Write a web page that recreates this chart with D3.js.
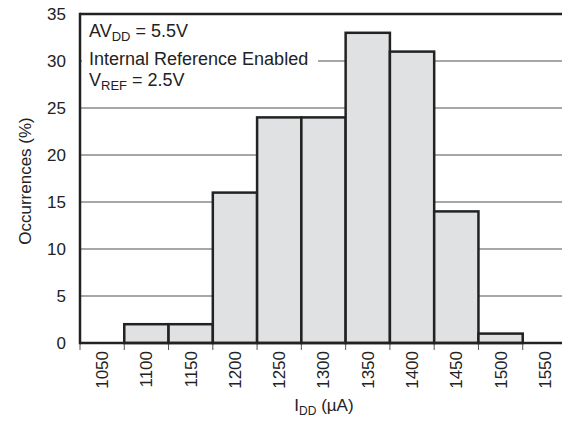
<!DOCTYPE html>
<html><head><meta charset="utf-8">
<script src="https://cdn.jsdelivr.net/npm/d3@7"></script>
<style>body{margin:0;background:#fff}svg{display:block;font-family:"Liberation Sans",Arial,Helvetica,sans-serif}</style>
</head><body><svg id="c" width="562" height="421"></svg>
<script>
const categories = ["1050","1100","1150","1200","1250","1300","1350","1400","1450","1500","1550"];
const values = [0, 2, 2, 16, 24, 24, 33, 31, 14, 1, 0];
const yTicks = [0, 5, 10, 15, 20, 25, 30, 35];

const svg = d3.select("#c");
const L = 80, R = 567, T = 14, B = 343;
const x = d3.scaleBand().domain(categories).range([L, R]).padding(0);
const y = d3.scaleLinear().domain([0, 35]).range([B, T]);

// gridlines
svg.append("g").selectAll("line").data(yTicks.filter(d => d > 0 && d < 35)).join("line")
  .attr("x1", L).attr("x2", R).attr("y1", d => y(d)).attr("y2", d => y(d))
  .attr("stroke", "#8a8a8a").attr("stroke-width", 1.3);

// annotation background
svg.append("rect").attr("x", L + 2).attr("y", T + 2).attr("width", 236).attr("height", 78).attr("fill", "#fff");

// bars
const data = values.map((v, i) => ({c: categories[i], v})).filter(d => d.v > 0);
svg.append("g").selectAll("rect").data(data).join("rect")
  .attr("x", d => x(d.c)).attr("width", x.bandwidth())
  .attr("y", d => y(d.v)).attr("height", d => B - y(d.v))
  .attr("fill", "#e0e1e3")
  .attr("stroke", "#222").attr("stroke-width", 2.5);

// x ticks at bin edges
const edges = categories.map(c => x(c)).concat([R]);
svg.append("g").selectAll("line").data(edges).join("line")
  .attr("x1", d => d).attr("x2", d => d).attr("y1", B).attr("y2", B + 7)
  .attr("stroke", "#555").attr("stroke-width", 1);

// axis frame
svg.append("line").attr("x1", L).attr("x2", R).attr("y1", B).attr("y2", B).attr("stroke", "#222").attr("stroke-width", 2.5);
svg.append("line").attr("x1", L).attr("x2", R).attr("y1", T).attr("y2", T).attr("stroke", "#222").attr("stroke-width", 2.5);
svg.append("line").attr("x1", L).attr("x2", L).attr("y1", T - 1.2).attr("y2", B + 1.2).attr("stroke", "#222").attr("stroke-width", 2.5);

// y tick labels
svg.append("g").selectAll("text").data(yTicks).join("text")
  .attr("x", 66).attr("y", d => y(d)).attr("dy", "0.35em").attr("text-anchor", "end")
  .attr("font-size", 17).attr("fill", "#222").text(d => d);

// x tick labels
svg.append("g").selectAll("text").data(categories).join("text")
  .attr("transform", d => `translate(${x(d) + x.bandwidth() / 2},351) rotate(-90)`)
  .attr("dy", "0.35em").attr("text-anchor", "end")
  .attr("font-size", 17).attr("fill", "#222").text(d => d);

// y title
svg.append("text").attr("transform", "translate(31,181) rotate(-90)").attr("text-anchor", "middle")
  .attr("font-size", 17).attr("fill", "#222").text("Occurrences (%)");

// x title
const xt = svg.append("text").attr("x", 324).attr("y", 411).attr("text-anchor", "middle").attr("font-size", 17).attr("fill", "#222");
xt.append("tspan").text("I");
xt.append("tspan").attr("font-size", 12).attr("dy", 4).text("DD");
xt.append("tspan").attr("dy", -4).text(" (µA)");

// annotation
const a1 = svg.append("text").attr("x", 89).attr("y", 37).attr("font-size", 18).attr("fill", "#222");
a1.append("tspan").text("AV");
a1.append("tspan").attr("font-size", 13).attr("dy", 4).text("DD");
a1.append("tspan").attr("dy", -4).text(" = 5.5V");
svg.append("text").attr("x", 89).attr("y", 65).attr("font-size", 18).attr("fill", "#222").text("Internal Reference Enabled");
const a3 = svg.append("text").attr("x", 89).attr("y", 86).attr("font-size", 18).attr("fill", "#222");
a3.append("tspan").text("V");
a3.append("tspan").attr("font-size", 13).attr("dy", 4).text("REF");
a3.append("tspan").attr("dy", -4).text(" = 2.5V");
</script></body></html>
